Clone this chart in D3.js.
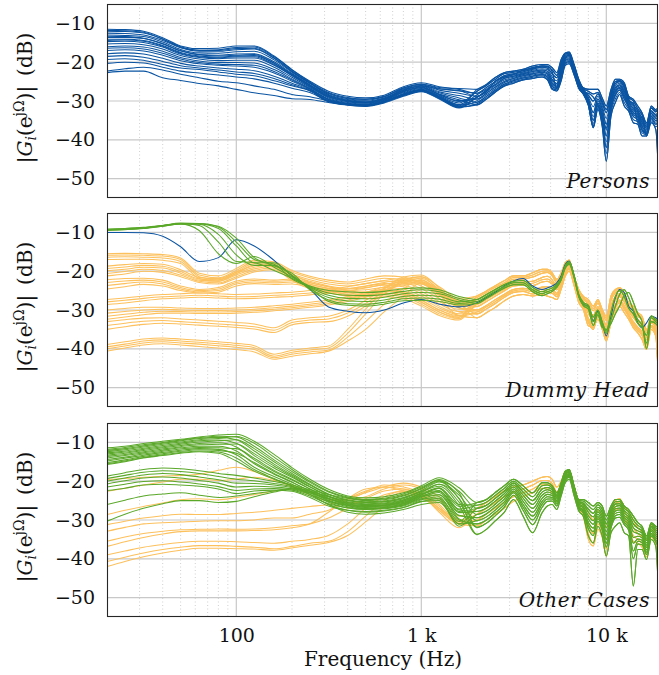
<!DOCTYPE html>
<html>
<head>
<meta charset="utf-8">
<script src="https://cdn.jsdelivr.net/npm/d3@7"></script>
<style>
  body { margin: 0; background: #fff; }
  text { font-family: "DejaVu Serif", "Liberation Serif", serif; fill: #111; }
</style>
</head>
<body>
<div id="chart"></div>
<script>
// frequency grid (Hz): coarse below 2 kHz, finer above
var freqLow = [20, 25, 31.5, 40, 50, 63, 80, 100, 125, 160, 200, 250, 315, 400, 500, 630, 800, 1000, 1250, 1600];
var freqHigh = [2000, 2250, 2500, 2800, 3150, 3550, 4000, 4500, 4800, 5100, 5400, 5700, 6000, 6300, 6700, 7100, 7500, 8000, 8500, 9000, 9500, 10000, 10600, 11200, 11800, 12500, 13200, 14000, 14800, 15600, 16500, 17500, 18500, 19500];

var yTicks = [-50, -40, -30, -20, -10];
var xTickValues = [100, 1000, 10000];
var xTickLabels = ["100", "1 k", "10 k"];
var minorFreqs = [30, 40, 50, 60, 70, 80, 90, 200, 300, 400, 500, 600, 700, 800, 900, 2000, 3000, 4000, 5000, 6000, 7000, 8000, 9000];
var panelLabels = ["Persons", "Dummy Head", "Other Cases"];

// ---- Persons (blue) ----
var personsLow = [
  [-11.5,-11.6,-12.0,-13.7,-15.8,-16.5,-16.4,-15.8,-15.8,-18.4,-21.9,-24.9,-27.5,-28.8,-29.2,-28.5,-26.3,-25.3,-26.3,-26.8],
  [-12.0,-12.1,-12.5,-14.0,-16.0,-16.9,-16.8,-16.2,-16.1,-18.6,-22.0,-25.1,-27.8,-29.1,-29.5,-28.8,-26.6,-25.6,-26.8,-27.4],
  [-12.5,-12.6,-13.0,-14.4,-16.3,-17.2,-17.2,-16.8,-16.6,-19.0,-22.3,-25.3,-28.0,-29.4,-29.8,-29.0,-26.9,-25.8,-27.2,-28.0],
  [-13.0,-13.1,-13.4,-14.8,-16.7,-17.6,-17.7,-17.3,-17.2,-19.4,-22.6,-25.5,-28.3,-29.6,-30.0,-29.2,-27.1,-26.0,-27.6,-28.6],
  [-13.6,-13.6,-13.9,-15.3,-17.1,-18.0,-18.2,-17.9,-17.8,-19.9,-22.9,-25.8,-28.5,-29.8,-30.2,-29.4,-27.3,-26.2,-27.9,-29.2],
  [-14.1,-14.1,-14.4,-15.7,-17.5,-18.4,-18.7,-18.4,-18.3,-20.3,-23.2,-26.0,-28.8,-30.0,-30.4,-29.5,-27.5,-26.4,-28.2,-29.7],
  [-14.7,-14.6,-14.9,-16.1,-17.9,-18.8,-19.1,-18.9,-18.9,-20.8,-23.5,-26.3,-29.0,-30.2,-30.6,-29.7,-27.7,-26.6,-28.4,-30.1],
  [-15.3,-15.2,-15.5,-16.6,-18.3,-19.2,-19.6,-19.5,-19.5,-21.3,-23.9,-26.5,-29.2,-30.4,-30.8,-29.8,-27.9,-26.8,-28.6,-30.5],
  [-16.0,-15.8,-16.1,-17.2,-18.8,-19.7,-20.1,-20.1,-20.2,-21.9,-24.3,-26.8,-29.5,-30.6,-31.0,-30.0,-28.1,-27.0,-28.8,-30.9],
  [-17.0,-16.8,-17.1,-18.2,-19.6,-20.4,-20.8,-21.0,-21.3,-22.8,-24.9,-27.0,-29.7,-30.7,-31.1,-30.1,-28.3,-27.2,-29.0,-31.2],
  [-17.8,-17.6,-17.9,-19.0,-20.3,-21.0,-21.5,-21.8,-22.2,-23.6,-25.4,-27.2,-29.9,-30.8,-31.2,-30.2,-28.4,-27.3,-29.1,-31.4],
  [-18.5,-18.3,-18.7,-19.8,-20.9,-21.5,-22.0,-22.5,-22.9,-24.2,-25.8,-27.3,-30.0,-30.9,-31.2,-30.3,-28.5,-27.4,-29.2,-31.6],
  [-19.3,-19.1,-19.5,-20.6,-21.5,-21.9,-22.5,-23.1,-23.5,-24.8,-26.1,-27.4,-30.2,-31.0,-31.3,-30.3,-28.6,-27.5,-29.3,-31.7],
  [-11.8,-11.9,-12.3,-14.1,-16.2,-17.0,-17.0,-16.5,-16.4,-18.9,-22.4,-25.4,-28.1,-29.3,-29.6,-28.9,-26.7,-25.7,-26.5,-27.0],
  [-13.3,-13.4,-13.8,-15.2,-17.0,-18.1,-18.4,-18.2,-18.0,-20.2,-23.1,-25.9,-28.6,-29.9,-30.3,-29.3,-27.2,-26.1,-26.9,-27.3],
  [-14.4,-14.3,-14.6,-15.9,-17.7,-18.6,-18.9,-18.6,-18.6,-20.6,-23.4,-26.2,-28.9,-30.1,-30.5,-29.6,-27.6,-26.5,-28.3,-29.9],
  [-16.4,-16.3,-16.6,-17.7,-19.2,-20.1,-20.5,-20.6,-20.8,-22.4,-24.6,-26.9,-29.6,-30.7,-31.0,-30.0,-28.2,-27.1,-28.9,-31.0],
  [-22.3,-21.7,-21.3,-22.0,-23.1,-24.0,-24.9,-25.3,-26.1,-27.0,-28.3,-28.9,-30.0,-30.9,-31.2,-30.3,-28.5,-27.4,-29.2,-31.5],
  [-22.7,-22.3,-22.3,-24.0,-24.7,-25.5,-26.1,-27.0,-27.9,-28.6,-29.4,-29.6,-30.4,-31.1,-31.4,-30.5,-28.8,-27.6,-29.5,-31.8],
  [-20.3,-20.0,-20.2,-21.3,-22.3,-22.8,-23.3,-23.8,-24.3,-25.4,-26.7,-27.8,-30.1,-30.9,-31.2,-30.2,-28.5,-27.4,-29.0,-31.0]
];
var personsHigh = [
  [-27,-25.7,-24,-22.7,-22.3,-21.8,-21,-20.6,-20.6,-21.4,-22.7,-19.3,-17.6,-17.4,-20.6,-24.4,-26.6,-27,-27,-27,-29.2,-31.3,-27,-24.4,-24.4,-25.3,-28.7,-29.6,-31.3,-33,-35.6,-31.3,-32.2,-31],
  [-28,-26.5,-25,-23.5,-23,-22.5,-21.8,-21.3,-21.5,-23,-24,-20.5,-18.2,-18,-21.3,-25,-27,-28.5,-30,-28.2,-30.5,-33,-28.5,-25.5,-25,-26.5,-29.5,-31,-32.5,-34.5,-36.5,-32.5,-33.5,-32],
  [-28.8,-27.2,-25.8,-24.2,-23.6,-23,-22.4,-22,-22.3,-24.5,-25.5,-21.8,-19,-18.6,-21.8,-25.5,-27.4,-29.5,-33,-29.5,-32,-36,-30,-26.5,-25.8,-27.5,-30.2,-32,-33.2,-35.5,-37,-33.2,-34.2,-33],
  [-29.5,-28,-26.5,-25,-24.2,-23.5,-23,-22.6,-23,-25.5,-26.2,-22.8,-19.6,-19.2,-22.3,-26,-27.7,-30,-35,-30.5,-33.5,-39,-31,-27.5,-26.5,-28.5,-31,-33,-34,-36.5,-37.8,-34,-35,-34],
  [-30.3,-28.8,-27.3,-25.7,-24.8,-24.1,-23.6,-23.2,-23.8,-26.3,-26.8,-23.8,-20.2,-19.8,-22.8,-26.4,-28,-30.6,-36.5,-31.3,-35,-42,-32.2,-28.5,-27.2,-29.5,-31.6,-34,-34.8,-37.5,-38.4,-34.6,-36,-35],
  [-31,-29.5,-27.8,-26.2,-25.4,-24.6,-24.2,-23.8,-24.5,-27,-27.4,-24.8,-20.8,-20.4,-23.3,-26.8,-28.2,-31.2,-36.9,-32.2,-36.5,-45.5,-33.9,-30.4,-28.3,-31.3,-32.6,-35.6,-36,-39,-39,-35.6,-37.3,-60],
  [-29,-27.5,-25,-23.8,-23.2,-22,-21.6,-21,-21,-22.5,-26.8,-21,-18.8,-18.2,-21,-24.8,-27.8,-28,-29,-31,-34,-37,-29,-25,-24.8,-26,-30,-30.5,-35.5,-34,-39,-31.8,-32.8,-31.5],
  [-27.5,-26.0,-24.5,-23.0,-22.6,-22.2,-21.4,-21.0,-21.2,-22.0,-23.4,-20.0,-17.9,-17.7,-21.0,-24.7,-26.8,-27.5,-28.2,-27.8,-30.0,-32.2,-27.8,-25.0,-24.8,-25.8,-29.0,-30.0,-32.0,-33.6,-36.0,-31.8,-32.6,-31.5],
  [-28.4,-26.9,-25.4,-23.9,-23.3,-22.8,-22.1,-21.7,-21.9,-23.8,-24.8,-21.2,-18.6,-18.3,-21.6,-25.2,-27.2,-29.0,-31.5,-28.8,-31.2,-34.5,-29.2,-26.0,-25.4,-27.0,-29.8,-31.5,-32.8,-35.0,-36.7,-32.8,-33.8,-32.5],
  [-29.1,-27.6,-26.1,-24.6,-23.9,-23.2,-22.7,-22.3,-22.7,-25.0,-25.9,-22.3,-19.3,-18.9,-22.0,-25.7,-27.5,-29.8,-34.0,-30.0,-32.8,-37.5,-30.5,-27.0,-26.1,-28.0,-30.6,-32.5,-33.6,-36.0,-37.4,-33.6,-34.6,-33.5],
  [-29.9,-28.4,-26.9,-25.3,-24.5,-23.8,-23.3,-22.9,-23.4,-25.9,-26.5,-23.3,-19.9,-19.5,-22.5,-26.2,-27.9,-30.3,-35.8,-30.9,-34.2,-40.5,-31.6,-28.0,-26.8,-29.0,-31.3,-33.5,-34.4,-37.0,-38.1,-34.3,-35.5,-34.5],
  [-30.7,-29.2,-27.6,-26.0,-25.1,-24.4,-23.9,-23.5,-24.2,-26.7,-27.1,-24.3,-20.5,-20.1,-23.0,-26.6,-28.1,-30.9,-36.7,-31.8,-35.8,-43.5,-33.0,-29.4,-27.8,-30.4,-32.1,-34.8,-35.4,-38.2,-38.7,-35.1,-36.6,-36.0]
];

// ---- Dummy Head ----
var dummyOrangeLow = [
  [-15.5,-15.4,-15.5,-15.7,-16.6,-20.5,-21.2,-19.3,-17.2,-17.6,-19.8,-21.3,-22.3,-22.8,-22.0,-21.2,-21.5,-23.0,-25.5,-27.5],
  [-15.9,-15.8,-15.9,-16.1,-17.0,-21.0,-21.7,-19.8,-17.6,-18.0,-20.2,-21.7,-22.8,-23.3,-22.6,-21.8,-22.2,-23.8,-26.2,-28.3],
  [-16.4,-16.3,-16.4,-16.6,-17.5,-21.4,-22.2,-20.2,-18.0,-18.5,-20.7,-22.2,-23.3,-23.8,-23.2,-22.5,-22.9,-24.5,-27.0,-29.0],
  [-17.0,-16.9,-16.9,-17.2,-18.0,-21.9,-22.6,-20.6,-18.4,-18.9,-21.1,-22.6,-23.8,-24.4,-23.9,-23.2,-23.6,-25.2,-27.8,-29.8],
  [-18.7,-18.3,-18.0,-18.2,-19.6,-21.6,-21.9,-20.2,-18.6,-18.0,-20.8,-22.9,-24.0,-24.6,-24.2,-23.6,-24.0,-25.8,-28.4,-30.4],
  [-19.3,-18.9,-18.5,-18.7,-20.1,-22.0,-22.3,-20.6,-19.0,-18.4,-21.2,-23.3,-24.4,-25.0,-24.8,-24.2,-24.6,-26.4,-29.0,-31.0],
  [-19.9,-19.5,-19.0,-19.2,-20.5,-22.3,-22.6,-21.0,-19.4,-18.8,-21.6,-23.7,-24.8,-25.5,-25.3,-24.7,-25.2,-27.0,-29.5,-31.4],
  [-20.6,-20.1,-19.5,-19.8,-21.0,-22.6,-23.0,-21.4,-19.8,-19.2,-22.0,-24.1,-25.2,-25.9,-25.8,-25.2,-25.7,-27.5,-30.0,-31.8],
  [-21.2,-20.7,-20.0,-20.3,-21.4,-22.9,-23.3,-21.8,-20.2,-19.6,-22.4,-24.5,-25.6,-26.3,-26.3,-25.7,-26.2,-28.0,-30.5,-32.2],
  [-22.2,-21.9,-21.8,-22.3,-23.8,-24.7,-24.2,-22.5,-22.0,-22.3,-22.0,-23.0,-24.0,-25.0,-25.5,-25.0,-25.5,-27.5,-30.0,-31.5],
  [-22.9,-22.5,-22.3,-22.8,-24.2,-25.0,-24.6,-22.9,-22.4,-22.6,-22.4,-23.4,-24.5,-25.5,-26.1,-25.6,-26.0,-28.0,-30.5,-31.9],
  [-23.7,-23.2,-22.8,-23.3,-24.6,-25.3,-25.0,-23.3,-22.8,-23.0,-22.8,-23.8,-25.0,-26.0,-26.6,-26.1,-26.6,-28.5,-31.0,-32.3],
  [-24.6,-24.0,-23.4,-23.8,-25.0,-25.6,-25.4,-23.8,-23.2,-23.4,-23.3,-24.3,-25.5,-26.5,-27.1,-26.6,-27.1,-29.0,-31.4,-32.6],
  [-27.3,-26.9,-26.4,-26.0,-25.8,-25.6,-25.8,-26.0,-25.9,-25.6,-25.4,-25.0,-24.6,-24.0,-23.2,-22.4,-21.9,-22.6,-25.0,-27.6],
  [-27.9,-27.5,-27.0,-26.6,-26.4,-26.2,-26.4,-26.6,-26.5,-26.2,-26.0,-25.6,-25.2,-24.6,-23.8,-22.9,-22.3,-22.9,-25.4,-28.0],
  [-28.6,-28.2,-27.6,-27.1,-26.9,-26.7,-26.9,-27.1,-27.0,-26.7,-26.5,-26.1,-25.7,-25.1,-24.3,-23.4,-22.7,-23.2,-25.8,-28.4],
  [-30.0,-29.6,-29.3,-29.3,-29.5,-29.6,-29.6,-29.5,-29.3,-28.9,-28.5,-28.0,-27.4,-26.6,-25.5,-24.0,-22.6,-22.4,-24.8,-28.2],
  [-30.8,-30.4,-30.0,-29.8,-30.0,-30.1,-30.1,-30.0,-29.8,-29.4,-29.0,-28.5,-27.9,-27.0,-25.9,-24.4,-22.9,-22.7,-25.2,-28.6],
  [-31.6,-31.1,-30.6,-30.3,-30.4,-30.5,-30.5,-30.4,-30.2,-29.8,-29.4,-28.9,-28.3,-27.4,-26.3,-24.8,-23.2,-23.0,-25.6,-29.0],
  [-32.4,-31.8,-31.2,-30.8,-30.8,-30.9,-30.9,-30.8,-30.6,-30.2,-29.8,-29.3,-28.7,-27.8,-26.7,-25.2,-23.5,-23.3,-26.0,-29.4],
  [-33.0,-32.5,-32.1,-32.0,-32.3,-32.6,-32.9,-33.2,-33.6,-34.6,-32.6,-32.0,-31.6,-30.0,-27.5,-24.5,-22.2,-21.4,-24.0,-27.0],
  [-34.0,-33.4,-32.9,-32.7,-33.0,-33.3,-33.6,-33.9,-34.3,-35.2,-33.2,-32.6,-32.3,-30.8,-28.3,-25.2,-22.6,-21.8,-24.6,-27.8],
  [-35.0,-34.3,-33.7,-33.4,-33.6,-33.9,-34.2,-34.5,-34.9,-35.8,-33.8,-33.2,-33.0,-31.6,-29.0,-25.8,-23.0,-22.2,-25.2,-28.5],
  [-38.9,-38.2,-37.5,-37.2,-37.5,-37.8,-38.2,-38.6,-39.2,-41.4,-40.4,-39.8,-39.3,-35.0,-29.8,-24.6,-21.5,-21.0,-24.3,-28.5],
  [-39.5,-38.8,-38.0,-37.7,-38.0,-38.3,-38.7,-39.1,-39.7,-41.9,-40.9,-40.3,-39.8,-36.0,-31.0,-25.8,-22.5,-21.5,-25.0,-29.5],
  [-40.0,-39.3,-38.5,-38.2,-38.5,-38.8,-39.2,-39.6,-40.2,-42.3,-41.4,-40.8,-40.3,-37.0,-33.0,-28.5,-24.5,-22.2,-26.0,-30.5],
  [-40.6,-39.8,-39.0,-38.7,-39.0,-39.4,-39.8,-40.2,-40.8,-42.7,-41.9,-41.3,-40.6,-38.0,-35.0,-30.5,-26.5,-23.0,-27.0,-31.5]
];
var dummyOrangeHigh = [
  [-26.4,-25.1,-23.8,-22.5,-21.2,-21.2,-20.4,-19.5,-19.5,-20.4,-22.1,-20.4,-17.8,-17.1,-21.3,-24.7,-26.4,-27.3,-29.0,-27.3,-29.8,-31.6,-26.4,-24.7,-24.3,-25.5,-28.1,-29.0,-30.7,-31.6,-35.0,-31.6,-32.4,-33.0],
  [-27.3,-26.0,-24.7,-23.4,-22.1,-22.0,-21.5,-20.5,-20.3,-21.2,-23.0,-21.1,-18.4,-17.6,-21.7,-25.3,-27.0,-28.5,-30.2,-28.2,-30.7,-32.7,-27.6,-25.6,-25.0,-26.3,-28.8,-30.0,-31.6,-32.6,-35.9,-32.2,-33.1,-34.0],
  [-28.2,-26.9,-25.6,-24.3,-23.0,-22.8,-22.6,-21.6,-21.3,-22.2,-23.9,-21.8,-19.0,-18.1,-22.1,-25.9,-27.6,-29.7,-31.4,-29.1,-31.6,-33.8,-28.8,-26.5,-25.8,-27.2,-29.5,-31.0,-32.5,-33.6,-36.8,-32.8,-33.8,-38.0],
  [-29.1,-27.8,-26.5,-25.1,-23.8,-23.6,-23.7,-22.8,-22.6,-23.3,-24.8,-22.5,-19.6,-18.6,-22.5,-26.4,-28.2,-30.9,-32.6,-30.0,-32.5,-35.0,-30.0,-27.5,-26.6,-28.0,-30.3,-32.0,-33.4,-34.6,-37.7,-33.4,-34.6,-45.0],
  [-30.0,-28.8,-27.4,-26.0,-24.7,-24.4,-24.8,-24.1,-24.0,-24.5,-25.7,-23.2,-20.1,-19.1,-22.9,-27.0,-28.8,-32.1,-33.8,-30.9,-33.4,-36.2,-31.2,-28.5,-27.4,-28.9,-31.0,-33.0,-34.4,-35.6,-38.6,-34.0,-35.3,-60],
  [-31.0,-29.7,-28.4,-26.8,-25.5,-25.2,-25.9,-25.2,-25.4,-25.7,-26.6,-24.0,-20.7,-19.5,-23.3,-27.5,-29.3,-33.2,-35.0,-31.7,-34.3,-37.2,-32.3,-29.4,-28.2,-29.8,-31.7,-34.0,-35.3,-36.6,-39.5,-34.5,-36.0,-60],
  [-32.0,-30.7,-29.4,-27.7,-26.4,-26.0,-26.4,-26.0,-26.4,-26.8,-27.3,-24.7,-21.3,-20.0,-23.8,-28.1,-29.8,-34.1,-34.5,-32.4,-35.0,-38.0,-33.3,-30.3,-29.0,-30.7,-32.4,-34.6,-35.9,-37.6,-40.2,-35.0,-36.7,-60],
  [-26.8,-25.5,-24.2,-23.0,-21.6,-21.6,-21.0,-20.0,-19.9,-20.8,-22.6,-20.7,-18.1,-17.3,-21.5,-25.0,-26.7,-27.9,-29.6,-27.7,-30.2,-32.1,-27.0,-25.1,-24.6,-25.9,-28.4,-29.5,-31.1,-32.1,-35.4,-31.9,-32.7,-33.5],
  [-28.6,-27.3,-26.0,-24.7,-23.4,-23.2,-23.1,-22.2,-22.0,-22.8,-24.3,-22.1,-19.3,-18.4,-22.3,-26.1,-27.9,-30.3,-32.0,-29.5,-32.0,-34.4,-29.4,-27.0,-26.2,-27.6,-29.9,-31.5,-33.0,-34.1,-37.2,-33.1,-34.2,-40.0],
  [-30.5,-29.2,-27.9,-26.4,-25.1,-24.8,-25.3,-24.6,-24.7,-25.1,-26.1,-23.6,-20.4,-19.3,-23.1,-27.2,-29.0,-32.6,-34.4,-31.3,-33.8,-36.7,-31.7,-29.0,-27.8,-29.3,-31.3,-33.5,-34.8,-36.1,-39.0,-34.2,-35.6,-50.0]
];
var dummyBlueLow = [
  [-10.0,-10.0,-10.1,-11.0,-13.7,-17.5,-16.5,-11.9,-13.5,-17.2,-21.2,-24.6,-29.2,-30.3,-30.7,-30.0,-28.2,-27.3,-28.5,-29.2]
];
var dummyBlueHigh = [
  [-28.1,-26.8,-25.5,-23.8,-22.5,-21.9,-23.8,-24.7,-24.3,-23.8,-23.0,-21.2,-18.2,-17.4,-21.2,-26.4,-28.5,-29.0,-32.8,-30.3,-33.3,-36.7,-31.6,-26.8,-24.7,-25.5,-29.0,-30.3,-33.3,-34.6,-33.3,-31.6,-32.0,-33.0]
];
var dummyGreenLow = [
  [-9.2,-9.0,-8.7,-8.2,-7.8,-9.5,-15.5,-18.0,-16.2,-19.0,-21.5,-23.8,-25.0,-25.3,-25.5,-25.2,-24.5,-24.3,-24.8,-26.5],
  [-9.3,-9.1,-8.8,-8.3,-7.7,-8.2,-12.5,-17.5,-17.8,-19.8,-21.8,-24.0,-25.6,-26.2,-26.3,-26.0,-25.2,-24.8,-25.3,-27.0],
  [-9.4,-9.2,-8.9,-8.4,-7.8,-7.9,-10.5,-15.8,-18.5,-18.5,-22.0,-24.2,-26.2,-27.0,-27.1,-26.7,-25.8,-25.5,-25.8,-27.4],
  [-9.5,-9.3,-9.0,-8.4,-7.8,-7.8,-9.0,-13.5,-17.8,-17.8,-21.2,-24.5,-26.8,-27.7,-27.8,-27.4,-26.5,-26.2,-26.5,-27.9],
  [-9.4,-9.2,-8.9,-8.3,-7.7,-7.7,-8.4,-11.5,-16.5,-18.6,-20.5,-24.8,-27.4,-28.4,-28.5,-28.0,-27.1,-26.9,-27.2,-28.3],
  [-9.2,-9.0,-8.8,-8.2,-7.6,-7.7,-8.6,-12.5,-17.0,-18.2,-21.0,-24.3,-27.8,-28.8,-29.0,-28.5,-27.6,-27.5,-27.8,-28.7]
];
var dummyGreenHigh = [
  [-27.3,-26.0,-24.8,-23.5,-22.6,-22.4,-24.2,-25.3,-24.8,-24.3,-23.4,-21.6,-18.6,-17.6,-21.0,-26.0,-28.0,-28.8,-31.8,-30.0,-33.0,-35.5,-30.5,-26.5,-25.0,-26.5,-29.5,-31.0,-33.5,-34.5,-36.5,-31.5,-32.5,-33.0],
  [-27.8,-26.5,-25.2,-24.0,-23.0,-23.0,-24.8,-25.8,-25.3,-24.8,-23.8,-22.0,-18.9,-17.9,-21.4,-26.3,-28.4,-29.3,-33.0,-30.6,-33.8,-36.0,-32.5,-29.0,-26.0,-24.8,-26.8,-30.0,-32.5,-34.0,-38.5,-32.0,-33.0,-34.0],
  [-28.3,-27.0,-25.7,-24.4,-23.5,-23.5,-25.3,-26.3,-25.8,-25.2,-24.2,-22.3,-19.2,-18.2,-21.7,-26.6,-28.8,-29.8,-34.0,-31.2,-34.5,-35.0,-33.5,-31.0,-29.0,-26.2,-25.5,-28.0,-31.0,-33.0,-40.0,-33.0,-33.5,-35.0]
];

// ---- Other Cases ----
var otherOrangeLow = [
  [-19.6,-19.3,-19.0,-18.7,-18.5,-18.2,-17.2,-16.4,-17.5,-19.5,-21.5,-23.5,-25.0,-24.5,-23.0,-21.5,-20.5,-21.5,-24.0,-29.0],
  [-22.6,-21.8,-21.0,-20.2,-19.5,-19.5,-19.8,-19.5,-19.0,-19.8,-21.0,-22.8,-24.5,-25.0,-24.0,-22.0,-21.0,-22.0,-25.0,-30.0],
  [-28.6,-27.5,-26.5,-25.6,-24.8,-24.5,-24.8,-24.2,-23.5,-22.5,-22.0,-22.8,-24.5,-25.5,-25.5,-23.5,-22.5,-23.0,-26.0,-30.5],
  [-31.2,-30.3,-29.5,-28.9,-28.5,-28.6,-28.6,-28.3,-28.0,-27.5,-27.0,-26.5,-26.0,-24.5,-22.5,-21.5,-22.0,-23.5,-27.0,-31.0],
  [-32.9,-31.9,-31.0,-30.7,-30.5,-30.3,-30.2,-30.2,-30.0,-29.5,-29.5,-28.5,-27.5,-25.0,-22.8,-21.0,-21.5,-23.0,-26.5,-31.0],
  [-35.5,-34.4,-33.5,-32.9,-32.5,-32.4,-32.3,-32.4,-32.3,-32.0,-31.5,-31.0,-29.5,-27.0,-24.5,-22.5,-22.0,-23.5,-27.0,-30.5],
  [-36.8,-35.6,-34.5,-33.6,-33.0,-32.8,-32.8,-32.8,-32.7,-32.5,-32.0,-31.0,-28.0,-24.5,-22.0,-21.5,-22.5,-24.0,-27.5,-31.0],
  [-39.0,-38.0,-37.0,-36.3,-35.8,-35.5,-35.5,-35.6,-35.8,-36.0,-35.5,-35.0,-34.0,-31.0,-27.0,-24.0,-22.5,-23.5,-27.0,-30.0],
  [-40.7,-39.6,-38.5,-37.6,-37.0,-36.6,-36.6,-36.8,-37.0,-37.4,-36.8,-36.0,-35.5,-33.0,-29.0,-25.0,-22.8,-23.8,-27.5,-31.0],
  [-42.0,-40.7,-39.5,-38.5,-37.8,-37.3,-37.3,-37.4,-37.5,-37.8,-37.2,-36.5,-35.8,-34.0,-30.5,-26.5,-23.5,-24.0,-28.0,-32.0]
];
var otherOrangeHigh = [
  [-27.0,-25.5,-24.0,-22.5,-21.5,-21.0,-20.0,-19.0,-18.8,-19.5,-21.5,-20.0,-17.5,-17.2,-21.5,-25.0,-26.0,-28.0,-30.0,-27.5,-29.0,-32.0,-27.5,-25.0,-24.5,-26.5,-28.0,-30.0,-32.0,-33.0,-35.0,-31.5,-32.5,-33.0],
  [-28.5,-27.0,-25.5,-24.0,-22.8,-22.0,-21.0,-19.8,-19.8,-20.6,-22.8,-21.0,-18.2,-17.8,-22.0,-25.6,-27.0,-31.0,-33.5,-29.5,-31.0,-35.0,-29.0,-25.8,-25.3,-27.8,-29.5,-32.0,-33.5,-34.5,-37.0,-32.5,-33.5,-40.0],
  [-30.0,-28.5,-27.0,-25.5,-24.0,-23.0,-22.0,-20.8,-20.8,-21.6,-24.0,-21.8,-18.8,-18.3,-22.5,-26.2,-28.0,-33.5,-36.0,-31.0,-33.0,-37.5,-30.5,-26.6,-26.2,-29.0,-31.0,-34.0,-35.0,-36.0,-38.5,-33.5,-34.8,-60],
  [-31.5,-30.0,-28.5,-27.0,-25.2,-24.0,-23.0,-21.8,-22.0,-23.0,-25.2,-22.5,-19.4,-18.8,-23.0,-26.8,-29.0,-35.0,-36.7,-32.4,-34.5,-39.3,-32.0,-27.5,-27.0,-30.0,-32.0,-35.5,-36.0,-37.0,-39.5,-34.5,-36.0,-60]
];
var otherGreenLow = [
  [-11.4,-11.0,-10.3,-9.7,-9.2,-8.6,-8.1,-7.9,-9.7,-13.1,-16.5,-19.5,-22.1,-23.8,-24.3,-24.0,-23.0,-21.2,-19.1,-21.7],
  [-11.8,-11.3,-10.6,-10.0,-9.4,-8.8,-8.4,-8.6,-11.0,-14.5,-17.5,-20.3,-22.8,-24.3,-24.8,-24.6,-23.6,-21.8,-19.6,-22.6],
  [-12.1,-11.6,-10.9,-10.2,-9.6,-9.0,-8.7,-9.3,-12.2,-15.6,-18.4,-21.0,-23.4,-24.8,-25.3,-25.1,-24.2,-22.4,-20.2,-23.6],
  [-12.4,-11.9,-11.2,-10.5,-9.9,-9.3,-9.0,-8.5,-10.2,-13.8,-17.0,-20.0,-22.6,-24.1,-24.7,-24.4,-23.3,-21.5,-19.8,-24.5],
  [-12.7,-12.2,-11.5,-10.8,-10.2,-9.6,-9.4,-10.2,-13.4,-16.6,-19.0,-21.5,-23.9,-25.3,-25.8,-25.6,-24.8,-23.0,-20.8,-25.4],
  [-13.0,-12.5,-11.8,-11.1,-10.5,-9.9,-9.6,-9.3,-11.6,-15.0,-18.0,-20.8,-23.3,-25.0,-25.5,-25.3,-24.5,-22.7,-21.3,-26.3],
  [-13.3,-12.8,-12.1,-11.4,-10.8,-10.3,-10.1,-11.2,-14.5,-17.5,-19.7,-22.0,-24.4,-25.8,-26.3,-26.1,-25.4,-23.6,-21.9,-27.2],
  [-13.6,-13.1,-12.4,-11.7,-11.1,-10.6,-10.5,-10.4,-12.9,-16.1,-18.7,-21.4,-23.8,-25.5,-26.0,-25.9,-25.1,-23.3,-22.4,-28.1],
  [-14.0,-13.4,-12.7,-12.0,-11.4,-11.0,-11.0,-12.2,-15.5,-18.2,-20.3,-22.5,-24.9,-26.3,-26.8,-26.6,-25.9,-24.2,-22.9,-28.9],
  [-14.4,-13.8,-13.0,-12.3,-11.7,-11.3,-11.4,-11.6,-14.1,-17.2,-19.5,-22.0,-24.5,-26.0,-26.5,-26.4,-25.7,-23.9,-23.5,-29.7],
  [-14.8,-14.1,-13.3,-12.6,-12.0,-11.6,-11.8,-13.2,-16.4,-18.8,-20.8,-23.0,-25.4,-26.9,-27.3,-27.1,-26.4,-24.8,-24.0,-30.4],
  [-15.2,-14.5,-13.6,-12.9,-12.3,-11.9,-12.1,-12.8,-15.2,-18.0,-20.2,-22.6,-25.1,-26.6,-27.1,-26.9,-26.2,-24.5,-24.6,-31.0],
  [-15.5,-14.8,-13.9,-13.2,-12.6,-12.2,-12.5,-14.0,-17.0,-19.3,-21.2,-23.4,-26.0,-27.5,-28.0,-27.7,-26.8,-25.2,-25.0,-31.6],
  [-15.7,-15.0,-14.0,-13.4,-12.8,-12.4,-12.8,-14.8,-17.4,-19.5,-21.3,-23.4,-26.0,-28.0,-28.5,-28.2,-27.3,-26.0,-25.5,-31.0],
  [-18.7,-17.8,-17.0,-16.6,-16.8,-17.3,-18.0,-18.5,-19.2,-20.1,-21.0,-22.2,-23.4,-24.4,-25.0,-24.8,-23.8,-22.0,-20.0,-23.0],
  [-19.3,-18.5,-17.7,-17.3,-17.5,-18.0,-18.8,-19.5,-19.9,-20.6,-21.4,-22.6,-24.0,-25.0,-25.5,-25.3,-24.3,-22.6,-20.8,-24.5],
  [-20.0,-19.2,-18.4,-18.0,-18.3,-18.9,-19.6,-20.5,-20.6,-21.0,-21.7,-23.0,-24.6,-25.6,-26.0,-25.8,-24.9,-23.2,-21.7,-26.0],
  [-20.7,-19.9,-19.2,-18.9,-19.2,-19.8,-20.5,-21.5,-21.3,-21.5,-22.0,-23.4,-25.2,-26.2,-26.6,-26.3,-25.5,-23.9,-22.6,-27.4],
  [-21.5,-20.8,-20.1,-19.9,-20.2,-20.7,-21.4,-22.4,-22.0,-21.9,-22.3,-23.8,-25.8,-26.8,-27.2,-26.9,-26.1,-24.6,-23.5,-28.8],
  [-22.4,-21.8,-21.0,-20.8,-21.0,-21.3,-22.0,-23.2,-22.5,-22.3,-22.6,-24.2,-26.4,-27.5,-27.8,-27.5,-26.8,-25.3,-24.4,-30.0],
  [-26.0,-24.9,-23.8,-23.3,-23.0,-23.6,-24.2,-23.8,-23.2,-22.5,-21.8,-22.5,-24.0,-25.8,-26.5,-26.2,-25.2,-23.5,-21.8,-26.5],
  [-30.3,-28.5,-27.0,-25.8,-25.0,-25.0,-25.5,-25.2,-24.0,-22.8,-22.0,-23.0,-24.5,-26.2,-27.0,-26.8,-25.8,-24.0,-22.5,-27.8]
];
var otherGreenHigh = [
  [-25.5,-24.7,-23.0,-21.2,-19.5,-21.2,-23.0,-20.4,-20.4,-21.2,-23.0,-20.4,-17.4,-17.0,-21.2,-24.7,-24.7,-25.5,-26.4,-25.5,-26.4,-29.0,-26.4,-24.7,-24.7,-26.4,-27.3,-29.0,-30.7,-31.6,-34.1,-30.7,-31.6,-32.0],
  [-27.0,-26.2,-24.5,-22.6,-20.5,-22.8,-25.0,-22.0,-21.6,-22.2,-23.8,-21.1,-18.0,-17.5,-21.7,-25.3,-25.6,-27.2,-28.3,-26.7,-28.0,-31.0,-27.8,-25.9,-25.8,-27.6,-28.6,-31.0,-32.1,-32.8,-35.3,-31.6,-32.6,-33.0],
  [-28.6,-27.7,-26.0,-24.0,-21.5,-24.4,-27.0,-23.6,-22.8,-23.2,-24.6,-21.8,-18.6,-18.0,-22.2,-25.9,-26.5,-28.9,-30.2,-27.9,-29.6,-33.0,-29.2,-27.1,-26.9,-28.8,-29.9,-33.0,-33.5,-34.0,-36.5,-32.5,-33.6,-34.0],
  [-30.2,-29.2,-27.5,-25.4,-22.5,-26.0,-29.0,-25.2,-24.0,-24.2,-25.4,-22.5,-19.2,-18.5,-22.7,-26.5,-27.4,-30.6,-32.1,-29.1,-31.2,-35.0,-30.6,-28.3,-28.0,-30.0,-31.2,-36.0,-34.9,-35.2,-37.7,-33.4,-34.6,-35.0],
  [-31.9,-30.8,-29.0,-26.8,-23.6,-27.5,-31.2,-26.7,-25.2,-25.1,-26.4,-23.2,-19.8,-19.0,-23.2,-27.1,-28.2,-32.3,-34.0,-30.3,-32.6,-37.0,-32.0,-29.5,-29.3,-31.2,-32.6,-40.0,-36.2,-36.4,-38.9,-34.2,-35.6,-38.0],
  [-33.7,-32.4,-30.3,-28.1,-24.7,-29.0,-33.3,-28.1,-26.4,-26.0,-27.3,-23.8,-20.4,-19.5,-23.8,-27.7,-29.0,-34.1,-35.9,-31.6,-34.1,-39.3,-33.3,-31.6,-30.7,-33.3,-34.1,-47.0,-37.6,-37.6,-40.2,-35.0,-36.7,-60],
  [-26.2,-25.4,-23.7,-21.9,-20.0,-22.0,-24.0,-21.2,-21.0,-21.7,-23.4,-20.7,-17.7,-17.2,-21.4,-25.0,-25.1,-26.3,-27.3,-26.1,-27.2,-30.0,-27.1,-25.3,-25.2,-27.0,-27.9,-30.0,-31.4,-32.2,-34.7,-31.1,-32.1,-32.5],
  [-27.8,-26.9,-25.2,-23.3,-21.0,-23.6,-26.0,-22.8,-22.2,-22.7,-24.2,-21.4,-18.3,-17.7,-21.9,-25.6,-26.0,-28.0,-29.2,-27.3,-28.8,-32.0,-28.5,-26.5,-26.3,-28.2,-29.2,-32.0,-32.8,-33.4,-35.9,-32.0,-33.1,-33.5],
  [-29.4,-28.4,-26.7,-24.7,-22.0,-25.2,-28.0,-24.4,-23.4,-23.7,-25.0,-22.1,-18.9,-18.2,-22.4,-26.2,-26.9,-29.7,-31.1,-28.5,-30.4,-34.0,-29.9,-27.7,-27.4,-29.4,-30.5,-34.5,-34.2,-34.6,-37.1,-32.9,-34.1,-34.5],
  [-31.0,-30.0,-28.2,-26.1,-23.0,-26.7,-30.0,-25.9,-24.6,-24.6,-25.9,-22.8,-19.5,-18.7,-22.9,-26.8,-27.8,-31.4,-33.0,-29.7,-31.9,-36.0,-31.3,-28.9,-28.6,-30.6,-31.9,-38.0,-35.5,-35.8,-38.3,-33.8,-35.1,-36.5]
];

var blue = "#0a54a2", orange = "#fcc05c", green = "#5aa829";

var width = 659, height = 675;
var plotLeft = 107, plotRight = 658, panelHeight = 194;

var panels = [
  {top: 4, groups: [{low: personsLow, high: personsHigh, color: blue}]},
  {top: 213, groups: [
    {low: dummyOrangeLow, high: dummyOrangeHigh, color: orange},
    {low: dummyBlueLow, high: dummyBlueHigh, color: blue},
    {low: dummyGreenLow, high: dummyGreenHigh, color: green}]},
  {top: 423, groups: [
    {low: otherOrangeLow, high: otherOrangeHigh, color: orange},
    {low: otherGreenLow, high: otherGreenHigh, color: green}]}
];

var svg = d3.select("#chart").append("svg")
  .attr("width", width)
  .attr("height", height);

var x = d3.scaleLog().domain([20, 20000]).range([107, 662]);
var freqs = freqLow.concat(freqHigh);

panels.forEach(function(p, k) {
  var y = d3.scaleLinear().domain([-55, -5]).range([p.top + panelHeight, p.top]);
  var g = svg.append("g");

  svg.append("clipPath").attr("id", "clip" + k)
    .append("rect")
    .attr("x", plotLeft).attr("y", p.top)
    .attr("width", plotRight - plotLeft).attr("height", panelHeight);

  // minor dotted grid
  g.selectAll(".minor").data(minorFreqs).enter().append("line")
    .attr("x1", d => x(d)).attr("x2", d => x(d))
    .attr("y1", p.top).attr("y2", p.top + panelHeight)
    .attr("stroke", "#c4c4c4").attr("stroke-width", 0.8)
    .attr("stroke-dasharray", "1,2.5");

  // major grid
  g.selectAll(".majx").data(xTickValues).enter().append("line")
    .attr("x1", d => x(d)).attr("x2", d => x(d))
    .attr("y1", p.top).attr("y2", p.top + panelHeight)
    .attr("stroke", "#c8c8c8").attr("stroke-width", 1.2);
  g.selectAll(".majy").data(yTicks).enter().append("line")
    .attr("x1", plotLeft).attr("x2", plotRight)
    .attr("y1", d => y(d)).attr("y2", d => y(d))
    .attr("stroke", "#c8c8c8").attr("stroke-width", 1.2);

  // curves: each low-frequency part joined to one high-frequency variant
  var line = d3.line()
    .x((d, i) => x(freqs[i]))
    .y(d => y(d))
    .curve(d3.curveMonotoneX);

  var curves = g.append("g").attr("clip-path", "url(#clip" + k + ")");
  p.groups.forEach(function(grp) {
    grp.low.forEach(function(lo, i) {
      var vals = lo.concat(grp.high[i % grp.high.length]);
      curves.append("path")
        .attr("d", line(vals))
        .attr("fill", "none")
        .attr("stroke", grp.color)
        .attr("stroke-width", 1.05)
        .attr("stroke-linejoin", "round");
    });
  });

  // frame
  g.append("rect")
    .attr("x", plotLeft + 0.5).attr("y", p.top + 0.5)
    .attr("width", plotRight - plotLeft - 1).attr("height", panelHeight - 1)
    .attr("fill", "none").attr("stroke", "#262626").attr("stroke-width", 1.1);

  // y axis labels
  var yAxis = d3.axisLeft(y).tickValues(yTicks).tickSize(0).tickPadding(12)
    .tickFormat(d => "\u2212" + Math.abs(d));
  var ya = svg.append("g").attr("transform", "translate(" + plotLeft + ",0)").call(yAxis);
  ya.select(".domain").remove();
  ya.selectAll("text").attr("font-size", 19).attr("font-family", "DejaVu Serif").attr("fill", "#111");

  // y axis title
  var t = svg.append("text")
    .attr("transform", "translate(32," + (p.top + 94) + ") rotate(-90)")
    .attr("text-anchor", "middle")
    .attr("font-size", 20);
  t.append("tspan").text("|");
  t.append("tspan").attr("font-style", "italic").text("G");
  t.append("tspan").attr("font-style", "italic").attr("font-size", 14).attr("dy", 4).text("i");
  t.append("tspan").attr("dy", -4).text("(e");
  t.append("tspan").attr("font-size", 14).attr("dy", -8).text("jΩ");
  t.append("tspan").attr("dy", 8).text(")|\u2002(dB)");

  // panel label
  svg.append("text")
    .attr("x", 650).attr("y", p.top + 184)
    .attr("text-anchor", "end")
    .attr("font-style", "italic")
    .attr("font-size", 20)
    .attr("letter-spacing", 0.6)
    .text(panelLabels[k]);

  if (k === panels.length - 1) {
    var xAxis = d3.axisBottom(x).tickValues(xTickValues).tickSize(0).tickPadding(12)
      .tickFormat((d, i) => xTickLabels[i]);
    var xa = svg.append("g").attr("transform", "translate(0," + (p.top + panelHeight) + ")").call(xAxis);
    xa.select(".domain").remove();
    xa.selectAll("text").attr("font-size", 19).attr("font-family", "DejaVu Serif").attr("fill", "#111");

    svg.append("text")
      .attr("x", 383).attr("y", 666)
      .attr("text-anchor", "middle")
      .attr("font-size", 20)
      .text("Frequency (Hz)");
  }
});
</script>
</body>
</html>
